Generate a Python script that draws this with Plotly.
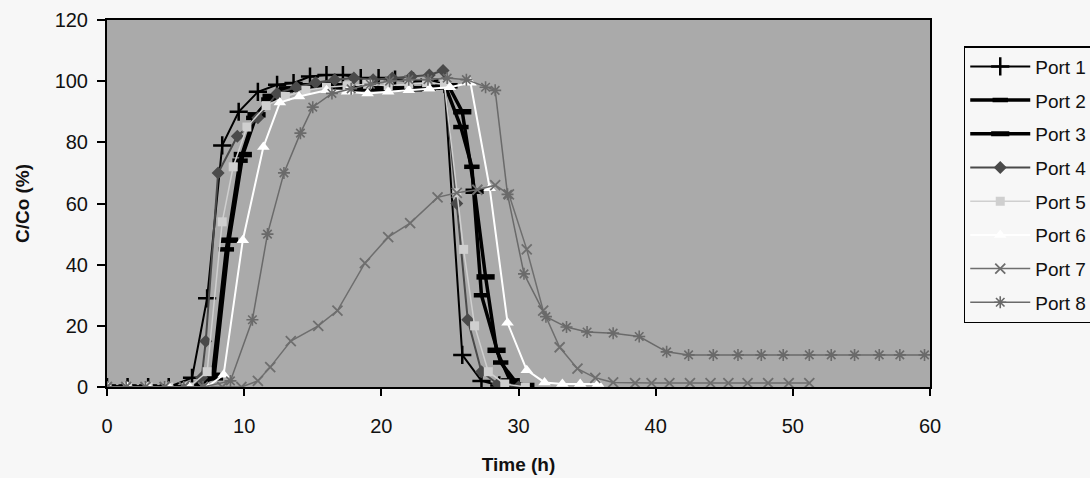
import plotly.graph_objects as go

# ---------------- data ----------------
t1 = [0, 1.5, 3.0, 4.5, 6.2, 7.3, 8.4, 9.6, 11.0, 12.4, 13.6, 14.8, 16.0, 17.2, 18.5, 19.8, 21.0, 22.3, 23.5, 24.6, 25.9, 27.3, 28.6, 30.0]
c1 = [0, 0, 0, 0, 3, 29, 79, 90, 96.5, 98.8, 99.4, 101.5, 102, 102, 101, 101, 100.5, 100, 100.5, 99, 10.5, 2, 0.5, 0]

t2 = [0, 1.5, 3.0, 4.5, 6.2, 7.7, 8.7, 9.7, 10.7, 11.8, 13.0, 14.3, 15.6, 16.9, 18.2, 19.5, 20.8, 22.1, 23.4, 24.7, 25.8, 26.6, 27.3, 28.7, 30.0]
c2 = [0, 0, 0, 0, 0, 4, 45, 74, 88, 94, 97, 98, 98.5, 98, 97.5, 97.5, 97.5, 97.5, 97.5, 98, 85, 72, 30, 8, 0.5]

t3 = [0, 1.5, 3.0, 4.5, 6.2, 7.8, 8.9, 9.9, 10.9, 12.0, 13.2, 14.5, 15.8, 17.1, 18.4, 19.7, 21.0, 22.3, 23.6, 24.9, 25.9, 26.8, 27.6, 28.4, 29.4, 30.5]
c3 = [0, 0, 0, 0, 0, 3, 48, 76, 89, 95, 97.5, 98.5, 99, 98.5, 97.5, 97.5, 97.5, 97.5, 98, 98.5, 90, 64, 36, 12, 2, 0.5]

t4 = [0, 1.5, 3.0, 4.5, 6.0, 6.9, 7.2, 8.1, 9.5, 11.0, 12.4, 13.8, 15.2, 16.6, 18.0, 19.4, 20.8, 22.2, 23.5, 24.5, 25.5, 26.3, 27.3, 28.5, 30.0]
c4 = [0, 0, 0, 0, 0, 3, 15, 70, 82, 88, 96, 98, 99.5, 100.5, 101, 100.5, 101, 101.5, 102, 103.5, 60, 22, 5, 1, 0]

t5 = [0, 1.5, 3.0, 4.5, 6.0, 7.3, 8.4, 9.2, 10.2, 11.6, 13.0, 14.5, 16.0, 17.5, 19.0, 20.5, 22.0, 23.3, 24.6, 25.5, 26.0, 26.8, 27.8, 29.0, 30.5]
c5 = [0, 0, 0, 0, 0, 5, 54, 72, 85, 92, 95, 97, 98, 98.5, 99, 98.5, 99, 99.5, 99, 63.5, 45, 20, 5, 1, 0]

t6 = [0, 1.5, 3.0, 4.5, 6.0, 7.3, 8.5, 9.9, 11.4, 12.6, 14.0, 16.0, 17.5, 19.0, 20.5, 22.0, 23.5, 25.0, 26.5, 27.9, 29.2, 30.6, 31.9, 33.2, 34.5, 35.8]
c6 = [0, 0, 0, 0, 0, 0, 4, 48, 78.5, 93, 95, 97, 96.5, 96, 96.5, 97, 97.5, 98, 99.5, 65, 21, 5.5, 1.5, 1, 1, 1]

t7 = [0, 1.4, 2.8, 4.2, 5.6, 7.0, 8.4, 9.8, 11.0, 11.9, 13.4, 15.4, 16.8, 18.8, 20.5, 22.1, 24.1, 25.5, 27.0, 28.3, 29.3, 30.6, 31.8, 33.0, 34.3, 35.6, 36.9, 38.5, 39.7, 41.0, 42.5, 44.0, 45.3, 46.7, 48.2, 49.7, 51.2]
c7 = [0, 0, 0, 0, 0, 0, 0, 0, 2, 6.5, 15, 20, 25, 40.5, 49, 53.6, 62, 63.5, 64.5, 66, 63, 45, 25, 13, 6, 3, 1.5, 1.3, 1.3, 1.3, 1.3, 1.3, 1.3, 1.3, 1.3, 1.3, 1.3]

t8 = [0, 1.4, 2.8, 4.2, 5.6, 7.0, 9.0, 10.6, 11.7, 12.9, 14.1, 15.0, 16.4, 17.8, 19.2, 20.6, 22.0, 23.4, 24.8, 26.2, 27.6, 28.3, 29.2, 30.4, 32.0, 33.5, 35.0, 36.9, 38.8, 40.8, 42.4, 44.2, 46.0, 47.7, 49.3, 51.2, 52.8, 54.5, 56.3, 57.8, 59.6]
c8 = [0, 0, 0, 0, 0, 0, 2, 22, 50, 70, 83, 91.5, 96, 97.5, 99, 100, 100.5, 100.5, 101, 100.5, 98, 97, 63, 37, 23, 19.6, 18, 17.6, 16.5, 11.5, 10.5, 10.5, 10.5, 10.5, 10.5, 10.5, 10.5, 10.5, 10.5, 10.5, 10.5]

series_names = ["Port 1", "Port 2", "Port 3", "Port 4", "Port 5", "Port 6", "Port 7", "Port 8"]

# ---------------- styles ----------------
styles = [
    dict(color="#000000", width=2.0, symbol="cross-thin", size=13, mlw=2.5, mcol="#000000"),
    dict(color="#000000", width=3.5, symbol="line-ew", size=11, mlw=4.5, mcol="#000000"),
    dict(color="#000000", width=3.5, symbol="line-ew", size=13, mlw=5.5, mcol="#000000"),
    dict(color="#4a4a4a", width=2.0, symbol="diamond", size=10, mlw=0, mcol="#4a4a4a"),
    dict(color="#cfcfcf", width=1.5, symbol="square", size=9, mlw=0, mcol="#cfcfcf"),
    dict(color="#ffffff", width=2.0, symbol="triangle-up", size=11, mlw=0, mcol="#ffffff"),
    dict(color="#6e6e6e", width=1.5, symbol="x-thin", size=10, mlw=1.8, mcol="#6e6e6e"),
    dict(color="#6a6a6a", width=1.5, symbol="asterisk", size=10, mlw=1.6, mcol="#6a6a6a"),
]

xs = [t1, t2, t3, t4, t5, t6, t7, t8]
ys = [c1, c2, c3, c4, c5, c6, c7, c8]

fig = go.Figure()
for i, (name, x, y, s) in enumerate(zip(series_names, xs, ys, styles)):
    fig.add_trace(go.Scatter(
        x=x, y=y, name=name, mode="lines+markers",
        legendgroup=f"g{i}",
        line=dict(color=s["color"], width=s["width"]),
        marker=dict(symbol=s["symbol"], size=s["size"], color=s["mcol"],
                    line=dict(color=s["mcol"], width=s["mlw"])),
    ))

font_family = "Liberation Sans, Arial, Helvetica, sans-serif"
page_bg = "#f7f7f7"

fig.update_layout(
    width=1090, height=478,
    margin=dict(l=107, r=160, t=20, b=91, autoexpand=False),
    paper_bgcolor=page_bg,
    plot_bgcolor="#aaaaaa",
    font=dict(family=font_family, size=20, color="#111111"),
    showlegend=True,
    legend=dict(
        x=1.041, y=0.929, xanchor="left", yanchor="top",
        bgcolor=page_bg, bordercolor="#000000", borderwidth=1.5,
        font=dict(family=font_family, size=19, color="#111111"),
        tracegroupgap=6,
        itemwidth=60,
    ),
    xaxis=dict(
        range=[0, 60], dtick=10, tick0=0,
        showgrid=False, zeroline=False, automargin=False,
        showline=True, linecolor="#000000", linewidth=2, mirror=True,
        ticks="outside", ticklen=7, tickcolor="#000000", tickwidth=1.5,
        ticklabelstandoff=13,
        tickfont=dict(size=20),
        title=dict(text="Time (h)", font=dict(size=19, weight="bold"), standoff=22),
    ),
    yaxis=dict(
        range=[0, 120], dtick=20, tick0=0,
        showgrid=False, zeroline=False, automargin=False,
        showline=True, linecolor="#000000", linewidth=2, mirror=True,
        ticks="outside", ticklen=8, tickcolor="#000000", tickwidth=1.5,
        ticklabelstandoff=5,
        tickfont=dict(size=20),
        title=dict(text="C/Co (%)", font=dict(size=19, weight="bold"), standoff=20),
    ),
)

fig.write_html(
    "out.html",
    config={"displayModeBar": False},
    post_script="document.body.style.margin='0';document.body.style.background='" + page_bg + "';",
)
